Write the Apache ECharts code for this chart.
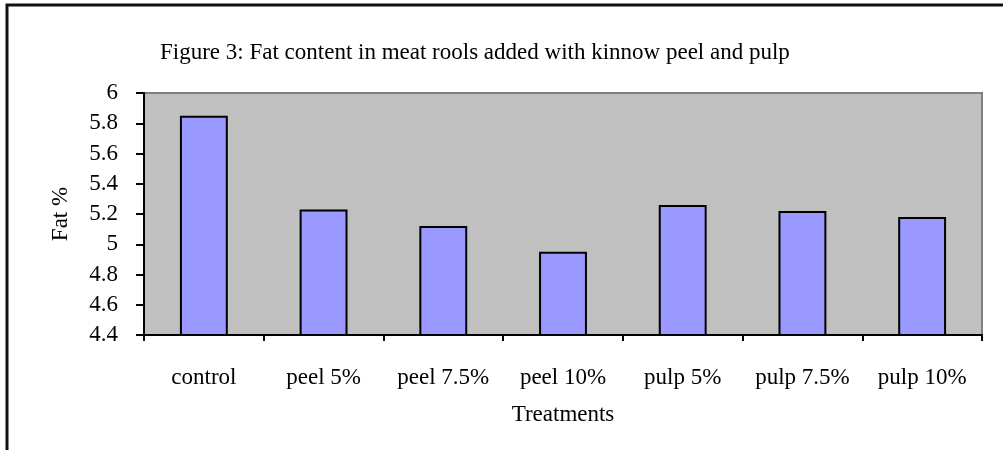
<!DOCTYPE html>
<html>
<head>
<meta charset="utf-8">
<script src="https://cdn.jsdelivr.net/npm/echarts@6/dist/echarts.min.js"></script>
<style>
  html, body { margin: 0; padding: 0; background: #fff; }
  #chart { width: 1003px; height: 450px; }
</style>
</head>
<body>
<div id="chart"></div>
<script>
// data
var categories = ['control', 'peel 5%', 'peel 7.5%', 'peel 10%', 'pulp 5%', 'pulp 7.5%', 'pulp 10%'];
var fatValues = [5.85, 5.23, 5.12, 4.95, 5.26, 5.22, 5.18];
var yMin = 4.4, yMax = 6, yStep = 0.2;

var serif = '"Liberation Serif", "DejaVu Serif", serif';

var chart = echarts.init(document.getElementById('chart'));
chart.setOption({
  animation: false,
  backgroundColor: '#fff',
  title: {
    text: 'Figure 3: Fat content in meat rools added with kinnow peel and pulp',
    left: 155,
    top: 36,
    textStyle: { fontFamily: serif, fontSize: 23, fontWeight: 'normal', color: '#000' }
  },
  // L-shaped frame on top and left, as in the scan
  graphic: [{
    type: 'polyline',
    shape: { points: [[7, 450], [7, 5], [1003, 5]] },
    style: { stroke: '#111', lineWidth: 3, fill: null }
  }],
  grid: {
    left: 144, right: 21, top: 93, bottom: 115,
    show: true,
    backgroundColor: '#C0C0C0',
    borderColor: '#808080',
    borderWidth: 2
  },
  xAxis: {
    type: 'category',
    data: categories,
    name: 'Treatments',
    nameLocation: 'middle',
    nameGap: 68,
    nameTextStyle: { fontFamily: serif, fontSize: 23, color: '#000' },
    axisLine: { lineStyle: { color: '#000', width: 2 } },
    axisTick: { show: true, interval: 0, length: 6, lineStyle: { color: '#000', width: 2 } },
    axisLabel: { interval: 0, margin: 31, fontFamily: serif, fontSize: 23, color: '#000' }
  },
  yAxis: {
    type: 'value',
    min: yMin, max: yMax, interval: yStep,
    name: 'Fat %',
    nameLocation: 'middle',
    nameGap: 72,
    nameRotate: 90,
    nameTextStyle: { fontFamily: serif, fontSize: 23, color: '#000' },
    axisLine: { show: true, lineStyle: { color: '#000', width: 2 } },
    axisTick: { show: true, length: 8, lineStyle: { color: '#000', width: 2 } },
    splitLine: { show: false },
    axisLabel: {
      margin: 26, fontFamily: serif, fontSize: 23, color: '#000',
      formatter: function (v) { return String(parseFloat(v.toFixed(1))); }
    }
  },
  series: [{
    type: 'bar',
    data: fatValues,
    barWidth: '40%',
    itemStyle: { color: '#9999FF', borderColor: '#000', borderWidth: 2 }
  }]
});
</script>
</body>
</html>
